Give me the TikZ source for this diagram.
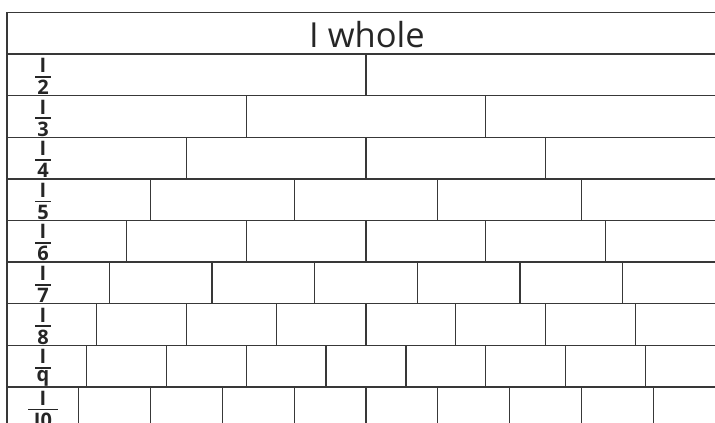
\documentclass[tikz,border=0pt]{standalone}
\usepackage{fontspec}
\setmainfont{Open Sans}
\begin{document}
\begin{tikzpicture}[x=1pt,y=-1pt,
  grid/.style={draw=black!78, line width=1.3pt},
  fracbar/.style={draw=black!85, line width=1.8pt},
  fractext/.style={font=\fontsize{20}{20}\selectfont\bfseries, inner sep=0pt, text=black!85, anchor=base},
  wholetext/.style={font=\fontsize{34.5}{34.5}\selectfont, inner sep=0pt, text=black!85}]
\useasboundingbox (0,0) rectangle (715,423);
\clip (0,0) rectangle (715,423);
\def\L{7}
\def\W{718}
\def\H{41.6}
\def\T{12.5}
\draw[grid] (730,\T) -| (\L,440);
\foreach \n in {1,...,10} {
  \draw[grid] (\L,{\T+\n*\H}) -- (730,{\T+\n*\H});
}
\node[wholetext] (whole) at (367,{\T+\H/2+1}) {I whole};
\foreach \n/\d/\bw in {2/2/16,3/3/16,4/4/16,5/5/16,6/6/16,7/7/16,8/8/16,9/\raisebox{4.3pt}{q}/16,10/I0/30} {
  \pgfmathsetmacro\top{\T+(\n-1)*\H}
  \pgfmathtruncatemacro\m{\n-1}
  \foreach \k in {1,...,\m} {
    \draw[grid] ({\L+\k*\W/\n},\top) -- ++(0,\H);
  }
  \node[fractext] (num\n) at (43,{\top+18.4}) {I};
  \node[fractext] (den\n) at (43,{\top+40.3}) {\d};
  \coordinate (barl\n) at ({43-\bw/2},{\top+22.5});
  \coordinate (barr\n) at ({43+\bw/2},{\top+22.5});
  \draw[fracbar] (barl\n) -- (barr\n);
}
\end{tikzpicture}
\end{document}
